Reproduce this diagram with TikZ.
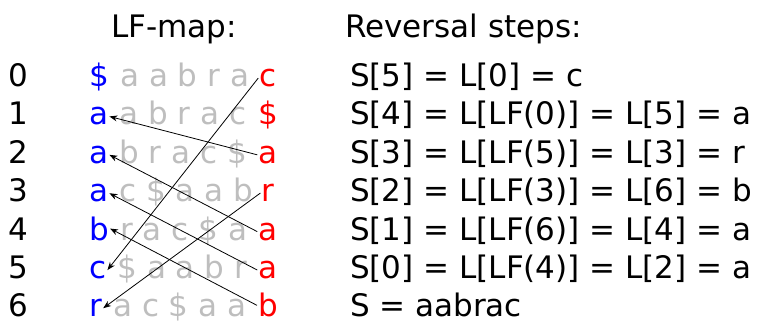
\documentclass[tikz,border=0pt]{standalone}
\usepackage{fontspec}
\setmainfont{DejaVu Sans}
\usetikzlibrary{arrows.meta}
\definecolor{lightgrey}{RGB}{190,190,190}

\begin{document}
\begin{tikzpicture}[x=1pt, y=-1pt, font=\fontsize{31}{37}\selectfont,
		every node/.style={inner sep=1pt, anchor=base},
		first/.style={text=blue, anchor=base west},
		rest/.style={text=lightgrey, anchor=base west, inner sep=0pt},
		last/.style={text=red},
		lf/.style={-{Stealth[length=8pt,width=6pt]}, line width=.8pt}]
			\useasboundingbox (0,0) rectangle (758,322);
			\draw node (title1) at (110,37) [anchor=base west] {LF-map:}
				node (title2) at (344,37) [anchor=base west] {Reversal steps:};
			% one line per row: index, F column, middle, L column, step
			\draw node (row0) at (18,86.5) {0}
				node (first0) at (88,86.5) [first] {\$}
				node (rest0) at (first0.base east) [rest] {~a a b r a}
				node (last0) at (268,86.5) [last] {c}
				node (step0) at (349,86.5) [anchor=base west] {S[5] = L[0] = c};
			\draw node (row1) at (18,124.9) {1}
				node (first1) at (88,124.9) [first] {a}
				node (rest1) at (first1.base east) [rest] {~a b r a c}
				node (last1) at (268,124.9) [last] {\$}
				node (step1) at (349,124.9) [anchor=base west] {S[4] = L[LF(0)] = L[5] = a};
			\draw node (row2) at (18,163.3) {2}
				node (first2) at (88,163.3) [first] {a}
				node (rest2) at (first2.base east) [rest] {~b r a c \$}
				node (last2) at (268,163.3) [last] {a}
				node (step2) at (349,163.3) [anchor=base west] {S[3] = L[LF(5)] = L[3] = r};
			\draw node (row3) at (18,201.7) {3}
				node (first3) at (88,201.7) [first] {a}
				node (rest3) at (first3.base east) [rest] {~c \$ a a b}
				node (last3) at (268,201.7) [last] {r}
				node (step3) at (349,201.7) [anchor=base west] {S[2] = L[LF(3)] = L[6] = b};
			\draw node (row4) at (18,240.1) {4}
				node (first4) at (88,240.1) [first] {b}
				node (rest4) at (first4.base east) [rest] {~r a c \$ a}
				node (last4) at (268,240.1) [last] {a}
				node (step4) at (349,240.1) [anchor=base west] {S[1] = L[LF(6)] = L[4] = a};
			\draw node (row5) at (18,278.5) {5}
				node (first5) at (88,278.5) [first] {c}
				node (rest5) at (first5.base east) [rest] {~\$ a a b r}
				node (last5) at (268,278.5) [last] {a}
				node (step5) at (349,278.5) [anchor=base west] {S[0] = L[LF(4)] = L[2] = a};
			\draw node (row6) at (18,316.9) {6}
				node (first6) at (88,316.9) [first] {r}
				node (rest6) at (first6.base east) [rest] {~a c \$ a a}
				node (last6) at (268,316.9) [last] {b}
				node (step6) at (349,316.9) [anchor=base west] {S = aabrac};
			% LF arrows, L column back to F column
			\draw[lf] (last0.west) -- (first5.east);
			\draw[lf] (last2.west) -- (first1.east);
			\draw[lf] (last3.west) -- (first6.east);
			\draw[lf] (last4.west) -- (first2.east);
			\draw[lf] (last5.west) -- (first3.east);
			\draw[lf] (last6.west) -- (first4.east);
		\end{tikzpicture}
\end{document}
